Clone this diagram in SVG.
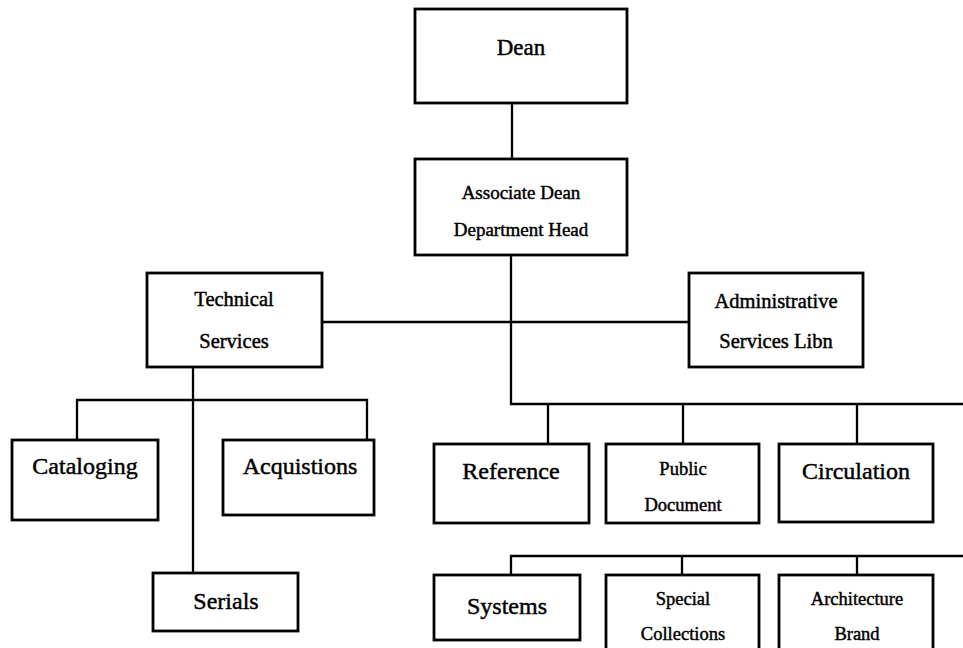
<svg xmlns="http://www.w3.org/2000/svg" width="963" height="648" viewBox="0 0 963 648">
  <style>
    .box { fill: #fff; stroke: #000; stroke-width: 2.8; }
    .wire { fill: none; stroke: #000; stroke-width: 2.3; }
    text { font-family: "Liberation Serif", "Times New Roman", serif; fill: #000; stroke: #000; stroke-width: 0.45; text-anchor: middle; }
    .big { font-size: 24px; }
    .mid { font-size: 20.5px; }
    .sm { font-size: 18.5px; }
  </style>
  <rect width="963" height="648" fill="#fff"/>

  <g id="connectors">
    <path class="wire" d="M512 103 V159"/>
    <path class="wire" d="M511 255 V404 H963"/>
    <path class="wire" d="M322 322 H689"/>
    <path class="wire" d="M548 404 V444"/>
    <path class="wire" d="M683 404 V444"/>
    <path class="wire" d="M857 404 V444"/>
    <path class="wire" d="M193 367 V573"/>
    <path class="wire" d="M77 440 V400 H367 V440"/>
    <path class="wire" d="M511 575 V556 H963"/>
    <path class="wire" d="M682 556 V575"/>
    <path class="wire" d="M857 556 V575"/>
  </g>

  <g id="dean">
    <rect class="box" x="415" y="9" width="212" height="94"/>
    <text x="521" y="55" style="font-size:23px">Dean</text>
  </g>
  <g id="associate-dean">
    <rect class="box" x="415" y="159" width="212" height="96"/>
    <text x="521" y="199" style="font-size:19px">Associate Dean</text>
    <text x="521" y="236" style="font-size:19px">Department Head</text>
  </g>
  <g id="technical-services">
    <rect class="box" x="147" y="273" width="175" height="94"/>
    <text class="mid" x="234" y="306">Technical</text>
    <text class="mid" x="234" y="348">Services</text>
  </g>
  <g id="administrative-services">
    <rect class="box" x="689" y="273" width="174" height="94"/>
    <text class="mid" x="776" y="308">Administrative</text>
    <text class="mid" x="776" y="348">Services Libn</text>
  </g>
  <g id="cataloging">
    <rect class="box" x="12" y="440" width="146" height="80"/>
    <text class="big" x="85" y="474">Cataloging</text>
  </g>
  <g id="acquistions">
    <rect class="box" x="223" y="440" width="151" height="75"/>
    <text class="big" x="300" y="474">Acquistions</text>
  </g>
  <g id="serials">
    <rect class="box" x="153" y="573" width="145" height="58"/>
    <text class="big" x="226" y="609">Serials</text>
  </g>
  <g id="reference">
    <rect class="box" x="434" y="444" width="155" height="79"/>
    <text class="big" x="511" y="479">Reference</text>
  </g>
  <g id="public-document">
    <rect class="box" x="606" y="444" width="153" height="79"/>
    <text class="sm" x="683" y="475">Public</text>
    <text class="sm" x="683" y="511">Document</text>
  </g>
  <g id="circulation">
    <rect class="box" x="779" y="444" width="154" height="78"/>
    <text class="big" x="856" y="479">Circulation</text>
  </g>
  <g id="systems">
    <rect class="box" x="434" y="575" width="146" height="65"/>
    <text class="big" x="507" y="614">Systems</text>
  </g>
  <g id="special-collections">
    <rect class="box" x="606" y="575" width="153" height="80"/>
    <text class="sm" x="683" y="605">Special</text>
    <text class="sm" x="683" y="640">Collections</text>
  </g>
  <g id="architecture-brand">
    <rect class="box" x="779" y="575" width="154" height="80"/>
    <text class="sm" x="857" y="605">Architecture</text>
    <text class="sm" x="857" y="640">Brand</text>
  </g>
</svg>
